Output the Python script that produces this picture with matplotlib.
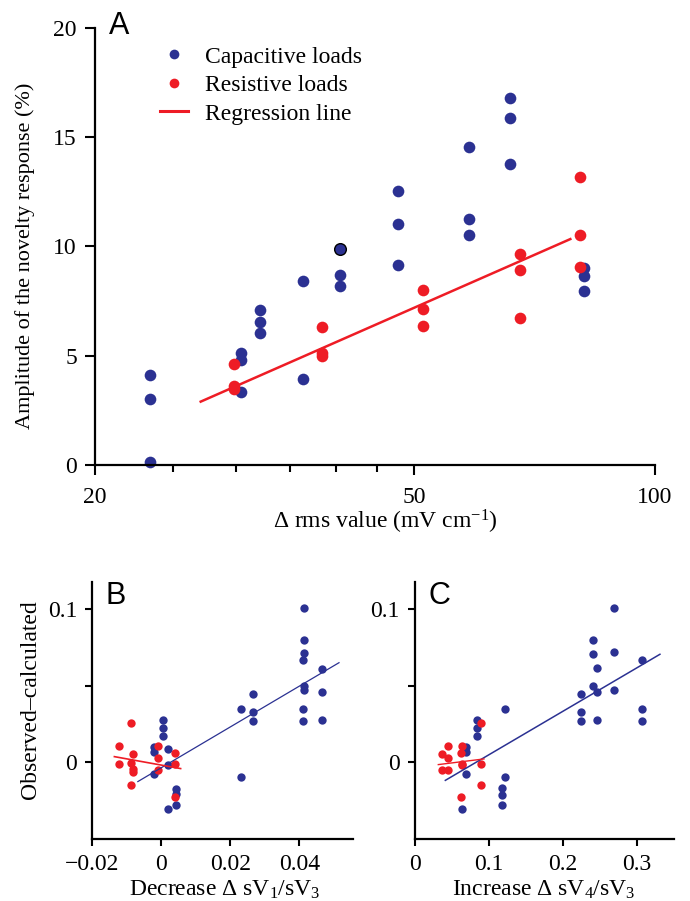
# Novelty response: panel A (log x) and residual panels B, C

import numpy as np
import matplotlib.pyplot as plt

plt.rcParams['font.family'] = ['Liberation Serif', 'DejaVu Serif']
plt.rcParams['mathtext.fontset'] = 'custom'
plt.rcParams['mathtext.rm'] = 'Liberation Serif'
plt.rcParams['mathtext.it'] = 'Liberation Serif:italic'

BLUE = '#2b3192'
RED = '#ee1c25'

# ---- panel A data
a_cap_x = [23.4, 23.4, 23.4, 30.4, 30.4, 30.4, 32.1, 32.1, 32.1, 36.4, 36.4,
           40.4, 40.4, 40.4, 47.8, 47.8, 47.8, 58.6, 58.6, 58.6, 66.0, 66.0,
           66.0, 81.5, 81.5, 81.5]
a_cap_y = [4.12, 3.03, 0.15, 5.11, 4.80, 3.35, 7.09, 6.55, 6.05, 8.40, 3.92,
           9.89, 8.70, 8.17, 12.56, 11.02, 9.16, 14.56, 11.28, 10.53, 16.78,
           15.88, 13.76, 9.01, 8.63, 7.97]
a_res_x = [29.85, 29.85, 29.85, 38.4, 38.4, 38.4, 51.4, 51.4, 51.4, 67.9,
           67.9, 67.9, 80.7, 80.7, 80.7]
a_res_y = [4.60, 3.61, 3.46, 6.30, 5.11, 4.98, 8.02, 7.16, 6.36, 9.66, 8.93,
           6.74, 13.16, 10.52, 9.08]
a_reg_x = [27.1, 78.4]
a_reg_y = [2.90, 10.34]
a_outlined = 11  # capacitive point drawn with a black edge

# ---- panel B data
b_cap_x = [0.0415, 0.0415, 0.0415, 0.0411, 0.0467, 0.0415, 0.0415, 0.0467,
           0.0265, 0.0231, 0.0265, 0.0265, 0.0411, 0.0411, 0.0467, 0.0231,
           0.0005, 0.0005, 0.0005, -0.0020, -0.0020, 0.0018, 0.0018, -0.0020,
           0.0043, 0.0043, 0.0043, 0.0018]
b_cap_y = [0.1007, 0.0797, 0.0717, 0.0669, 0.0612, 0.0499, 0.0473, 0.0460,
           0.0446, 0.0348, 0.0329, 0.0272, 0.0348, 0.0272, 0.0276, -0.0098,
           0.0277, 0.0222, 0.0172, 0.0098, 0.0070, 0.0089, -0.0015, -0.0076,
           -0.0174, -0.0209, -0.0279, -0.0305]
b_res_x = [-0.0088, -0.0122, -0.0122, -0.0083, -0.0088, -0.0083, -0.0083,
           -0.0088, -0.0009, -0.0009, -0.0009, 0.0040, 0.0040, 0.0040]
b_res_y = [0.0255, 0.0108, -0.0012, 0.0052, -0.0007, -0.0045, -0.0064,
           -0.0148, 0.0107, 0.0028, -0.0050, 0.0061, -0.0012, -0.0228]
b_reg_red_x = [-0.0136, 0.0056]
b_reg_red_y = [0.0037, -0.0041]
b_reg_blue_x = [-0.0068, 0.0515]
b_reg_blue_y = [-0.0126, 0.0651]

# ---- panel C data
c_cap_x = [0.269, 0.240, 0.240, 0.269, 0.3068, 0.246, 0.240, 0.246, 0.269,
           0.2248, 0.2248, 0.2248, 0.246, 0.3068, 0.3068, 0.1216, 0.1216,
           0.118, 0.118, 0.118, 0.0833, 0.0833, 0.0833, 0.0694, 0.0694,
           0.0685, 0.064]
c_cap_y = [0.1007, 0.0797, 0.0708, 0.0719, 0.0671, 0.0614, 0.0499, 0.0460,
           0.0475, 0.0447, 0.0329, 0.0272, 0.0277, 0.0349, 0.0272, 0.0347,
           -0.0095, -0.0171, -0.0211, -0.0279, 0.0276, 0.0222, 0.0171, 0.0097,
           0.0067, -0.0075, -0.0307]
c_res_x = [0.0892, 0.045, 0.0635, 0.0369, 0.045, 0.0626, 0.0635, 0.0635,
           0.0369, 0.045, 0.0892, 0.0892, 0.0626]
c_res_y = [0.0255, 0.0109, 0.0109, 0.0052, 0.0028, 0.0061, -0.0009, -0.0020,
           -0.0050, -0.0050, -0.0009, -0.0148, -0.0229]
c_reg_red_x = [0.0315, 0.0932]
c_reg_red_y = [-0.0015, 0.0022]
c_reg_blue_x = [0.041, 0.331]
c_reg_blue_y = [-0.0118, 0.0706]

W, H = 690, 901


def fx(x):
    return x / W


def fy(y):
    return 1 - y / H


def style(ax):
    ax.spines['right'].set_visible(False)
    ax.spines['top'].set_visible(False)
    for s in ('left', 'bottom'):
        ax.spines[s].set_linewidth(1.6)
    ax.tick_params(which='major', direction='out', length=7, width=1.5,
                   labelsize=17, pad=6)
    ax.tick_params(which='minor', direction='out', length=5, width=1.5)


fig = plt.figure(figsize=(6.9, 9.01), dpi=100)

# ---- A
axA = fig.add_axes([fx(95), fy(465), 560 / W, 437 / H])
style(axA)
axA.plot(a_cap_x, a_cap_y, 'o', color=BLUE, ms=8.4, mew=0, clip_on=False)
axA.plot(a_cap_x[a_outlined], a_cap_y[a_outlined], 'o', color=BLUE, ms=8.4,
         mec='black', mew=1.0)
axA.plot(a_res_x, a_res_y, 'o', color=RED, ms=8.4, mew=0)
axA.plot(a_reg_x, a_reg_y, '-', color=RED, lw=1.8)
axA.set_xscale('log')
axA.set_xlim(20, 100)
axA.set_ylim(0, 20)
axA.set_xticks([20, 50, 100], ['20', '50', '100'])
axA.set_xticks([25, 30, 35, 40, 45], minor=True)
axA.xaxis.set_minor_formatter(plt.NullFormatter())
axA.set_yticks([0, 5, 10, 15, 20])
axA.tick_params(axis='x', which='major', pad=9)

h1, = axA.plot([], [], 'o', color=BLUE, ms=7, mew=0)
h2, = axA.plot([], [], 'o', color=RED, ms=7, mew=0)
h3, = axA.plot([], [], '-', color=RED, lw=2.2)
axA.legend([h1, h2, h3], ['Capacitive loads', 'Resistive loads',
                          'Regression line'],
           loc='upper left', bbox_to_anchor=(fx(160), fy(46)),
           bbox_transform=fig.transFigure, frameon=False, borderpad=0,
           borderaxespad=0, handlelength=1.2, handletextpad=0.7,
           labelspacing=0.3, fontsize=17)

fig.text(fx(109), fy(34), 'A', family='Liberation Sans', fontsize=22,
         va='baseline')
fig.text(fx(25), fy(256), 'Amplitude of the novelty response (%)',
         rotation=90, ha='center', va='center', fontsize=16)
fig.text(fx(385), fy(522), 'Δ rms value (mV cm$^{-1}$)', ha='center',
         va='center', fontsize=17)

# ---- B and C
ylo, yhi = -0.05, 0.118
bot = 762.3 + 0.05 * 1530
top = 762.3 - yhi * 1530

axB = fig.add_axes([fx(92.3), fy(bot), 260.5 / W, (bot - top) / H])
axC = fig.add_axes([fx(415), fy(bot), 259 / W, (bot - top) / H])
for ax in (axB, axC):
    style(ax)
    ax.tick_params(length=5)
    ax.set_ylim(ylo, yhi)
    ax.set_yticks([0, 0.05, 0.1], ['0', '', '0.1'])

axB.plot(b_cap_x, b_cap_y, 'o', color=BLUE, ms=6.0, mew=0)
axB.plot(b_res_x, b_res_y, 'o', color=RED, ms=6.0, mew=0)
axB.plot(b_reg_blue_x, b_reg_blue_y, '-', color=BLUE, lw=0.9)
axB.plot(b_reg_red_x, b_reg_red_y, '-', color=RED, lw=1.2)
axB.set_xlim(-0.02, 0.0555)
axB.set_xticks([-0.02, 0, 0.02, 0.04], ['\u22120.02', '0', '0.02', '0.04'])

axC.plot(c_cap_x, c_cap_y, 'o', color=BLUE, ms=6.0, mew=0)
axC.plot(c_res_x, c_res_y, 'o', color=RED, ms=6.0, mew=0)
axC.plot(c_reg_blue_x, c_reg_blue_y, '-', color=BLUE, lw=1.1)
axC.plot(c_reg_red_x, c_reg_red_y, '-', color=RED, lw=1.0)
axC.set_xlim(0, 0.35)
axC.set_xticks([0, 0.1, 0.2, 0.3], ['0', '0.1', '0.2', '0.3'])

fig.text(fx(105), fy(604), 'B', family='Liberation Sans', fontsize=22,
         va='baseline')
fig.text(fx(429), fy(604), 'C', family='Liberation Sans', fontsize=22,
         va='baseline')
fig.text(fx(31), fy(700), 'Observed\u2013calculated', rotation=90,
         ha='center', va='center', fontsize=17)
fig.text(fx(225), fy(890), 'Decrease Δ sV$_1$/sV$_3$', ha='center',
         va='center', fontsize=17)
fig.text(fx(544), fy(890), 'Increase Δ sV$_4$/sV$_3$', ha='center',
         va='center', fontsize=17)

fig.savefig('out.png', dpi=100)
